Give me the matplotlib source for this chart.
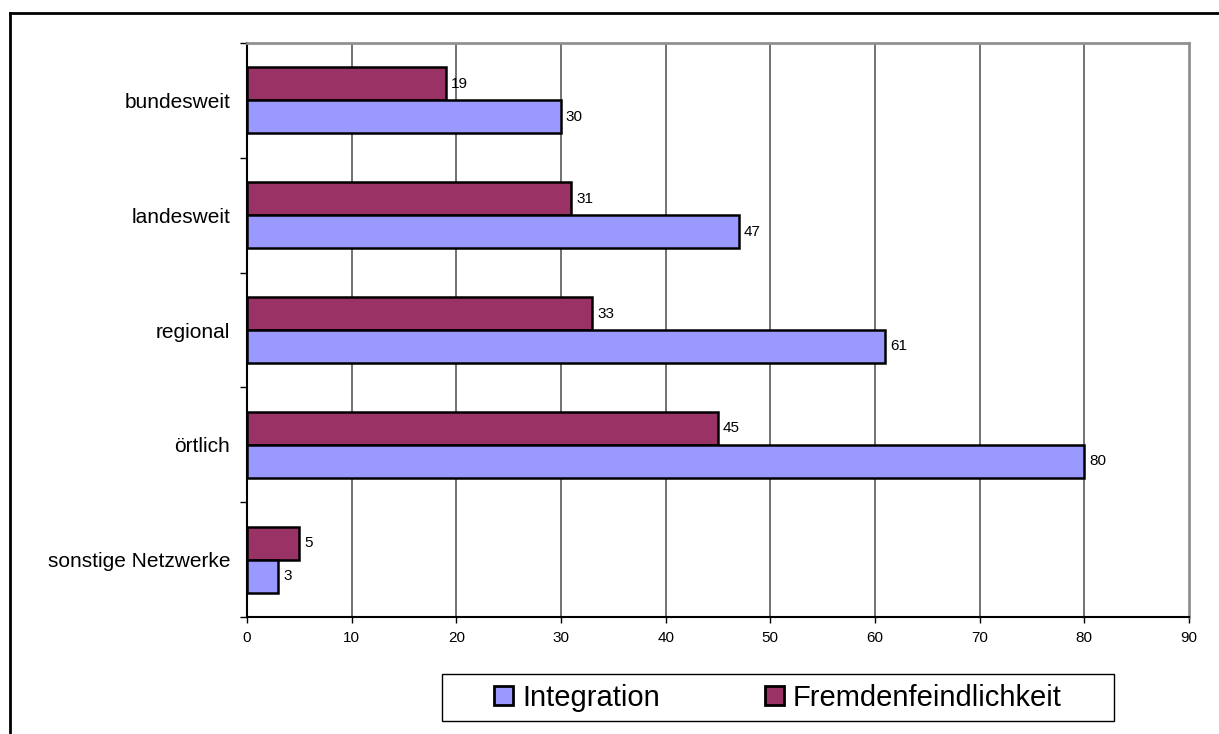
import matplotlib
matplotlib.use("Agg")
import matplotlib.pyplot as plt
import numpy as np
from matplotlib.patches import Rectangle
from matplotlib.lines import Line2D

plt.rcParams['font.family'] = ['Liberation Sans', 'DejaVu Sans']

categories = ["bundesweit", "landesweit", "regional", "örtlich", "sonstige Netzwerke"]
integration = [30, 47, 61, 80, 3]
fremdenfeindlichkeit = [19, 31, 33, 45, 5]
xticks = [0, 10, 20, 30, 40, 50, 60, 70, 80, 90]

W, H = 1219, 734
fig = plt.figure(figsize=(W / 100, H / 100), dpi=100)

# outer frame (top and left visible, cut at right/bottom)
fig.add_artist(Line2D([10 / W, 10 / W], [0, 1 - 13 / H], transform=fig.transFigure,
                      color='black', lw=2))
fig.add_artist(Line2D([10 / W, 1], [1 - 13 / H, 1 - 13 / H], transform=fig.transFigure,
                      color='black', lw=2))

ax = fig.add_axes([247 / W, 1 - 617 / H, (1189 - 247) / W, (617 - 43) / H])

y = np.arange(len(categories))
h = 0.287
c_int = '#9999FF'
c_fr = '#993366'
b_fr = ax.barh(y - h / 2, fremdenfeindlichkeit, height=h, color=c_fr, edgecolor='black',
               linewidth=1.8, zorder=3)
b_in = ax.barh(y + h / 2, integration, height=h, color=c_int, edgecolor='black',
               linewidth=1.8, zorder=3)

for bars, vals in ((b_fr, fremdenfeindlichkeit), (b_in, integration)):
    for b, v in zip(bars, vals):
        ax.annotate(str(v), (b.get_width(), b.get_y() + b.get_height() / 2),
                    xytext=(3.5, 0), textcoords='offset points', va='center', ha='left',
                    fontsize=11, color='black')

ax.set_xlim(0, 90)
ax.set_ylim(len(categories) - 0.5, -0.5)
ax.set_xticks(xticks)
ax.set_xticklabels([str(t) for t in xticks], fontsize=11)
ax.set_yticks(y)
ax.set_yticklabels(categories, fontsize=15)
ax.set_yticks(np.arange(len(categories) + 1) - 0.5, minor=True)
ax.tick_params(axis='y', which='major', length=0, pad=12)
ax.tick_params(axis='y', which='minor', length=5, width=1, direction='out', color='black')
ax.tick_params(axis='x', which='major', length=4, width=1, direction='out', pad=6,
               color='black')

for xv in xticks[1:-1]:
    ax.axvline(xv, color='#5a5a5a', lw=1.2, zorder=1)

ax.spines['left'].set_color('black')
ax.spines['left'].set_linewidth(1.5)
ax.spines['bottom'].set_color('black')
ax.spines['bottom'].set_linewidth(1.5)
ax.spines['top'].set_color('#909090')
ax.spines['top'].set_linewidth(2)
ax.spines['right'].set_color('#909090')
ax.spines['right'].set_linewidth(2)

# legend box
fig.add_artist(Rectangle((442 / W, 1 - 721 / H), (1114 - 442) / W, (721 - 674) / H,
                         transform=fig.transFigure, facecolor='white', edgecolor='black',
                         lw=1))
handles = [Rectangle((0, 0), 1, 1, facecolor=c_int, edgecolor='black', lw=2),
           Rectangle((0, 0), 1, 1, facecolor=c_fr, edgecolor='black', lw=2)]
fig.legend(handles, ['Integration', 'Fremdenfeindlichkeit'], loc='center',
           bbox_to_anchor=(778 / W, 1 - 698 / H), ncol=2, frameon=False, fontsize=21,
           handlelength=0.65, handleheight=0.65, handletextpad=0.3, columnspacing=3.6,
           borderpad=0, borderaxespad=0)

fig.savefig('out.png', dpi=100)
